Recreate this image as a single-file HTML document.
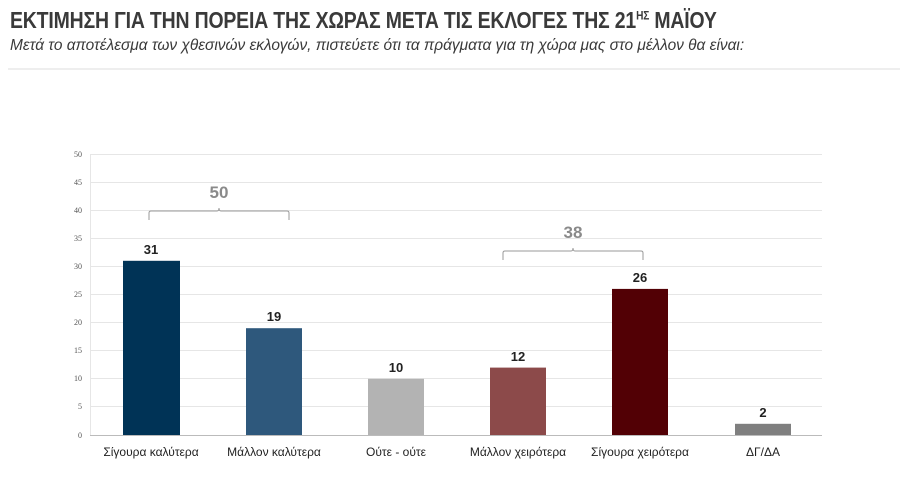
<!DOCTYPE html>
<html><head><meta charset="utf-8"><style>
body{margin:0;background:#fff;width:900px;height:480px;overflow:hidden;font-family:"Liberation Sans",sans-serif;}
.t{position:absolute;left:10px;top:7px;font-size:23px;font-weight:bold;color:#3a3a3a;white-space:nowrap;transform-origin:0 0;transform:scaleX(0.845);letter-spacing:-0.2px}
.s{position:absolute;left:10px;top:37px;font-size:16px;font-style:italic;color:#3a3a3a;white-space:nowrap;transform-origin:0 0;transform:scaleX(0.965)}
</style></head><body>
<div class="t">ΕΚΤΙΜΗΣΗ ΓΙΑ ΤΗΝ ΠΟΡΕΙΑ ΤΗΣ ΧΩΡΑΣ ΜΕΤΑ ΤΙΣ ΕΚΛΟΓΕΣ ΤΗΣ 21<sup style="font-size:12px">ΗΣ</sup> ΜΑΪΟΥ</div>
<div class="s">Μετά το αποτέλεσμα των χθεσινών εκλογών, πιστεύετε ότι τα πράγματα για τη χώρα μας στο μέλλον θα είναι:</div>
<div style="position:absolute;left:8px;top:68px;width:892px;height:2px;background:#eee"></div>
<svg width="900" height="480" style="position:absolute;left:0;top:0" font-family="Liberation Sans, sans-serif">
<g stroke="#e6e6e6" stroke-width="1">
<line x1="90" x2="822" y1="154.5" y2="154.5"/><line x1="90" x2="822" y1="182.5" y2="182.5"/>
<line x1="90" x2="822" y1="210.5" y2="210.5"/><line x1="90" x2="822" y1="238.5" y2="238.5"/>
<line x1="90" x2="822" y1="266.5" y2="266.5"/><line x1="90" x2="822" y1="294.5" y2="294.5"/>
<line x1="90" x2="822" y1="322.5" y2="322.5"/><line x1="90" x2="822" y1="350.5" y2="350.5"/>
<line x1="90" x2="822" y1="378.5" y2="378.5"/><line x1="90" x2="822" y1="406.5" y2="406.5"/>
<line x1="90.5" x2="90.5" y1="154" y2="435"/>
</g>
<line x1="90" x2="822" y1="435.5" y2="435.5" stroke="#bbb"/>
<g font-size="8" fill="#555" text-anchor="end" font-family="Liberation Serif, serif">
<text x="82" y="157">50</text><text x="82" y="185">45</text><text x="82" y="213">40</text><text x="82" y="241">35</text><text x="82" y="269">30</text><text x="82" y="297">25</text><text x="82" y="325">20</text><text x="82" y="353">15</text><text x="82" y="381">10</text><text x="82" y="409">5</text><text x="82" y="438">0</text>
</g>
<rect x="123" y="260.8" width="57" height="174.2" fill="#003356"/>
<rect x="246" y="328.2" width="56" height="106.8" fill="#2e587c"/>
<rect x="368" y="378.8" width="56" height="56.2" fill="#b3b3b3"/>
<rect x="490" y="367.6" width="56" height="67.4" fill="#8c4a4a"/>
<rect x="612" y="288.9" width="56" height="146.1" fill="#520005"/>
<rect x="735" y="423.8" width="56" height="11.2" fill="#7f7f7f"/>
<g font-size="13" font-weight="bold" fill="#222" text-anchor="middle">
<text x="151" y="254">31</text><text x="274" y="321">19</text><text x="396" y="372">10</text><text x="518" y="361">12</text><text x="640" y="282">26</text><text x="763" y="417">2</text>
</g>
<g font-size="12" fill="#222" text-anchor="middle">
<text x="151" y="456">Σίγουρα καλύτερα</text><text x="274" y="456">Μάλλον καλύτερα</text><text x="396" y="456">Ούτε - ούτε</text><text x="518" y="456">Μάλλον χειρότερα</text><text x="640" y="456">Σίγουρα χειρότερα</text><text x="763" y="456">ΔΓ/ΔΑ</text>
</g>
<g fill="none" stroke="#999" stroke-width="1">
<path d="M149,220 V213 Q149,211 151,211 H217 Q219,211 219,208 Q219,211 221,211 H287 Q289,211 289,213 V220"/>
<path d="M503,260 V253 Q503,251 505,251 H571 Q573,251 573,248 Q573,251 575,251 H641 Q643,251 643,253 V260"/>
</g>
<g font-size="17" fill="#8a8a8a" text-anchor="middle" font-weight="bold">
<text x="219" y="198">50</text><text x="573" y="238">38</text>
</g>
</svg>
</body></html>
